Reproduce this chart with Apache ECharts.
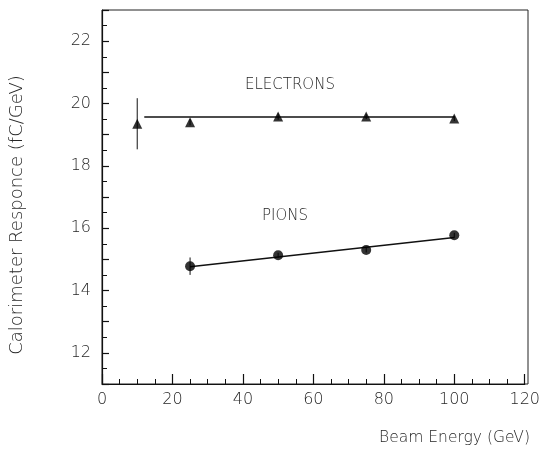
<!DOCTYPE html>
<html><head><meta charset="utf-8">
<script src="https://cdn.jsdelivr.net/npm/echarts@6/dist/echarts.min.js"></script>
<style>html,body{margin:0;padding:0;background:#fff}#c{width:543px;height:451px}</style>
</head><body><div id="c"></div>
<script>
const electronE = [10, 25, 50, 75, 100];
const electronR = [19.35, 19.4, 19.58, 19.58, 19.52];
const electronErr = [0.82, 0.1, 0.1, 0.08, 0.08];
const pionE = [25, 50, 75, 100];
const pionR = [14.78, 15.13, 15.3, 15.77];
const pionErr = [0.28, 0.08, 0.08, 0.08];
const electronFitE = [12, 100];
const electronFitR = [19.57, 19.57];
const pionFitE = [25, 100];
const pionFitR = [14.76, 15.70];
const xTicks = [0, 20, 40, 60, 80, 100, 120];
const yTicks = [12, 14, 16, 18, 20, 22];

const FONT = '"DejaVu Sans", sans-serif';
const TXT = '#262626';

function pts(xs, ys) { return xs.map((x, i) => [x, ys[i]]); }
function errData(xs, ys, es) { return xs.map((x, i) => [x, ys[i] - es[i], ys[i] + es[i]]); }

const errSeries = (data) => ({
  type: 'custom', silent: true, z: 3,
  renderItem: (params, api) => {
    const a = api.coord([api.value(0), api.value(1)]);
    const b = api.coord([api.value(0), api.value(2)]);
    return { type: 'line', shape: { x1: a[0], y1: a[1], x2: b[0], y2: b[1] },
      style: { stroke: '#111', lineWidth: 1 } };
  },
  data: data
});

const chart = echarts.init(document.getElementById('c'), null, { renderer: 'canvas' });
chart.setOption({
  animation: false,
  backgroundColor: '#fff',
  grid: { left: 102, right: 15, top: 10, bottom: 67, show: false },
  xAxis: {
    type: 'value', min: 0, max: 120, interval: 20,
    axisLine: { show: true, onZero: false, lineStyle: { color: '#111', width: 1.2 } },
    axisTick: { show: true, inside: true, length: 10, lineStyle: { color: '#111', width: 1.2 } },
    minorTick: { show: true, splitNumber: 4, length: 5, lineStyle: { color: '#111', width: 1 } },
    splitLine: { show: false },
    axisLabel: { color: TXT, fontFamily: FONT, fontWeight: 200, fontSize: 16, margin: 8,
      formatter: v => xTicks.includes(v) ? String(v) : '' }
  },
  yAxis: {
    type: 'value', min: 11, max: 23, interval: 1,
    axisLine: { show: true, onZero: false, lineStyle: { color: '#111', width: 1.2 } },
    axisTick: { show: true, inside: true, length: 7, lineStyle: { color: '#111', width: 1.2 } },
    minorTick: { show: true, splitNumber: 2, length: 5, lineStyle: { color: '#111', width: 1 } },
    splitLine: { show: false },
    axisLabel: { color: TXT, fontFamily: FONT, fontWeight: 200, fontSize: 16, margin: 11,
      formatter: v => yTicks.includes(v) ? String(v) : '' }
  },
  graphic: [
    { type: 'rect', silent: true, shape: { x: 102, y: 10, width: 426, height: 374 },
      style: { fill: 'none', stroke: '#222', lineWidth: 1 }, z: 0 },
    { type: 'text', x: 17, y: 215, rotation: Math.PI / 2,
      style: { text: 'Calorimeter Responce (fC/GeV)', fill: TXT, font: '200 18px ' + FONT,
        align: 'center', verticalAlign: 'middle' } },
    { type: 'text', right: 13, top: 430,
      style: { text: 'Beam Energy (GeV)', fill: TXT, font: '200 15.5px ' + FONT } },
    { type: 'text', left: 245, top: 78,
      style: { text: 'ELECTRONS', fill: TXT, font: '200 15px ' + FONT } },
    { type: 'text', left: 262, top: 209,
      style: { text: 'PIONS', fill: TXT, font: '200 15px ' + FONT } }
  ],
  series: [
    { type: 'line', data: pts(electronFitE, electronFitR), symbol: 'none',
      lineStyle: { color: '#111', width: 1.5 }, z: 2 },
    { type: 'line', data: pts(pionFitE, pionFitR), symbol: 'none',
      lineStyle: { color: '#111', width: 1.5 }, z: 2 },
    errSeries(errData(electronE, electronR, electronErr)),
    errSeries(errData(pionE, pionR, pionErr)),
    { type: 'scatter', data: pts(electronE, electronR), symbol: 'triangle', symbolSize: 10,
      itemStyle: { color: '#000' }, z: 4 },
    { type: 'scatter', data: pts(pionE, pionR), symbol: 'circle', symbolSize: 10,
      itemStyle: { color: '#000' }, z: 4 }
  ]
});
</script></body></html>
